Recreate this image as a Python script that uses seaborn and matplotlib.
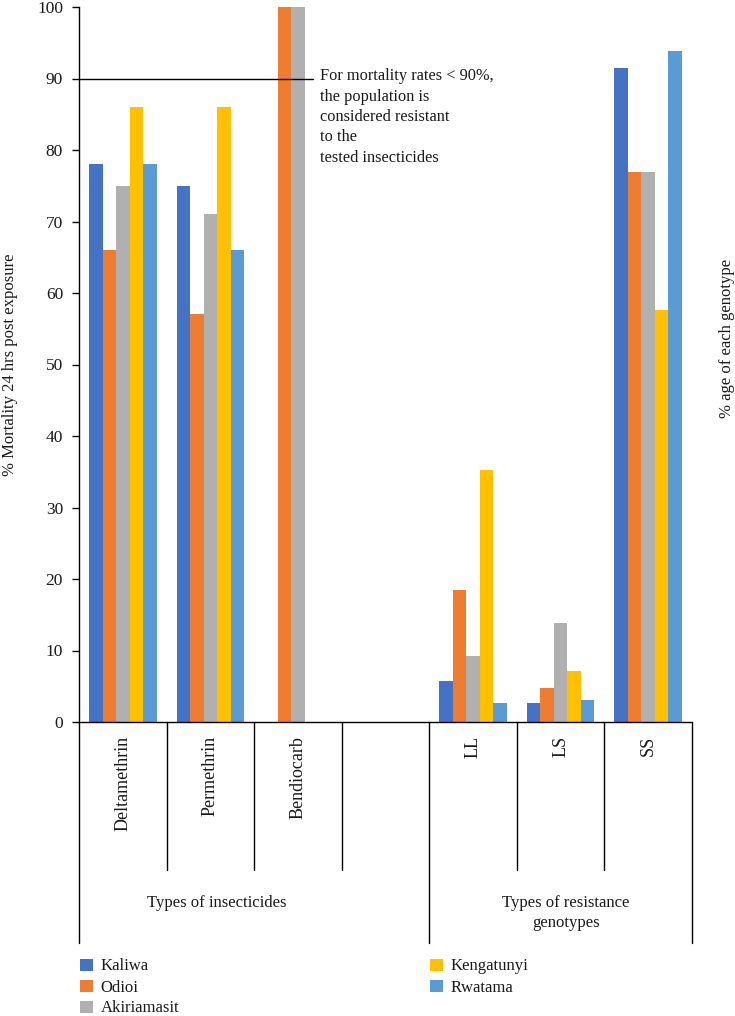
import numpy as np
import pandas as pd
import matplotlib
matplotlib.use("Agg")
import matplotlib.pyplot as plt
import seaborn as sns
from matplotlib.transforms import blended_transform_factory

# ---------------- data ----------------
slot_order = ["Deltamethrin", "Permethrin", "Bendiocarb", " ", "LL", "LS", "SS"]
data_categories = ["Deltamethrin", "Permethrin", "Bendiocarb", "LL", "LS", "SS"]
sites = ["Kaliwa", "Odioi", "Akiriamasit", "Kengatunyi", "Rwatama"]
kaliwa = [78, 75, 0, 5.8, 2.7, 91.5]
odioi = [66, 57, 100, 18.4, 4.7, 76.9]
akiriamasit = [75, 71, 100, 9.2, 13.9, 76.9]
kengatunyi = [86, 86, 0, 35.3, 7.1, 57.6]
rwatama = [78, 66, 0, 2.7, 3.1, 93.9]
colors = ["#4472C4", "#ED7D31", "#B0B0B0", "#FFC000", "#5B9BD5"]
yticks = [0, 10, 20, 30, 40, 50, 60, 70, 80, 90, 100]
threshold = 90
note = "For mortality rates < 90%,\nthe population is\nconsidered resistant\nto the\ntested insecticides"

series = [kaliwa, odioi, akiriamasit, kengatunyi, rwatama]
rows = []
for site, vals in zip(sites, series):
    for cat, v in zip(data_categories, vals):
        rows.append({"category": cat, "site": site, "value": v})
df = pd.DataFrame(rows)

# ---------------- figure ----------------
sns.set_style("white")
plt.rcParams["font.family"] = ["Liberation Serif", "DejaVu Serif"]
TXT = "#1a1a1a"

W, H = 735, 1016
fig = plt.figure(figsize=(W / 100, H / 100), dpi=100)
ax_left, ax_right, ax_top, ax_bot = 79, 692, 7, 722
ax = fig.add_axes([ax_left / W, 1 - ax_bot / H, (ax_right - ax_left) / W, (ax_bot - ax_top) / H])

sns.barplot(data=df, x="category", y="value", hue="site", order=slot_order,
            hue_order=sites, palette=colors, saturation=1, width=0.77, linewidth=0,
            errorbar=None, ax=ax, legend=True)

ax.set_xlim(-0.5, len(slot_order) - 0.5)
ax.set_ylim(0, 100)
ax.set_yticks(yticks)
ax.set_yticklabels([str(t) for t in yticks], fontsize=12.5, color=TXT)
ax.tick_params(axis="y", direction="out", length=5, width=1, pad=6.5, color="black", left=True)
ax.tick_params(axis="x", bottom=False, labelbottom=False)
ax.set_xlabel("")
ax.set_ylabel("")
for s in ["top", "right"]:
    ax.spines[s].set_visible(False)
for s in ["left", "bottom"]:
    ax.spines[s].set_color("black")
    ax.spines[s].set_linewidth(1)

# threshold line + note
ax.plot([-0.5, 2.17], [threshold, threshold], color="black", lw=1, zorder=5, clip_on=False)
ax.text(2.25, 91.4, note, ha="left", va="top", fontsize=11.8, color=TXT,
        linespacing=1.36, transform=ax.transData)

# category axis labels and separators
trans = blended_transform_factory(ax.transData, ax.transAxes)
px = 1.0 / (ax_bot - ax_top)
for i, cat in enumerate(slot_order):
    if cat.strip():
        ax.text(i, -14 * px, cat, rotation=90, ha="center", va="top",
                fontsize=13, color=TXT, transform=trans)
outer = {-0.5, 3.5, 6.5}
for b in np.arange(-0.5, len(slot_order), 1.0):
    depth = 221 if b in outer else 148
    ax.plot([b, b], [0, -depth * px], color="black", lw=1, transform=trans, clip_on=False)

ax.text(1.076, -181 * px, "Types of insecticides", ha="center", va="center",
        fontsize=12, color=TXT, transform=trans)
ax.text(5.06, -191 * px, "Types of resistance\ngenotypes", ha="center", va="center",
        fontsize=12, color=TXT, linespacing=1.4, transform=trans)

# axis titles
fig.text(10 / W, 1 - 365 / H, "% Mortality 24 hrs post exposure", rotation=90,
         ha="center", va="center", fontsize=12, color=TXT)
fig.text(727 / W, 1 - 338 / H, "% age of each genotype", rotation=90,
         ha="center", va="center", fontsize=12, color=TXT)

# legend (two blocks)
handles, labels = ax.get_legend_handles_labels()
ax.get_legend().remove()
kw = dict(frameon=False, fontsize=12, handlelength=0.75, handleheight=0.75,
          handletextpad=0.5, labelspacing=0.3, borderpad=0, borderaxespad=0,
          loc="upper left", labelcolor=TXT)
leg1 = fig.legend(handles[:3], labels[:3], bbox_to_anchor=(80 / W, 1 - 958.5 / H), **kw)
leg2 = fig.legend(handles[3:], labels[3:], bbox_to_anchor=(430 / W, 1 - 958.5 / H), **kw)

fig.savefig("out.png", dpi=100)
